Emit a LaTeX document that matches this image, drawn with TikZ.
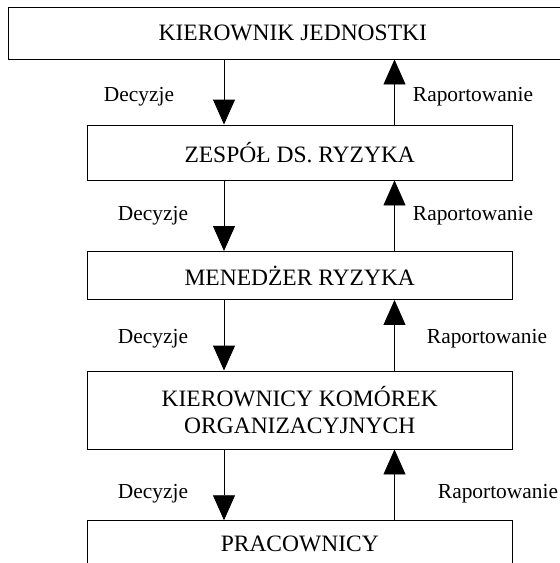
\documentclass[tikz,border=0pt]{standalone}
\usepackage{fontspec}
\setmainfont{Liberation Serif}
\usetikzlibrary{arrows.meta}
\begin{document}
\begin{tikzpicture}[x=1pt,y=-1pt,
  box/.style={draw, line width=0.9pt, inner sep=0pt, align=center,
    font=\fontsize{23.5}{27}\selectfont},
  lab/.style={font=\fontsize{21.4}{24}\selectfont, inner sep=0pt},
  flow/.style={line width=0.9pt, -{Triangle[length=25pt,width=22pt]}}]
\useasboundingbox (0,0) rectangle (560,563);
\clip (0,0) rectangle (560,563);
\coordinate (dx) at (224,0);
\coordinate (ux) at (394.5,0);
\node[box, minimum width=568pt, minimum height=51.5pt] (k1) at (292.8,33.25) {KIEROWNIK JEDNOSTKI};
\node[box, minimum width=425.5pt, minimum height=55pt] (k2) at (299.75,152.5) {ZESPÓŁ DS. RYZYKA};
\node[box, minimum width=425.5pt, minimum height=48pt] (k3) at (299.75,275.5) {MENEDŻER RYZYKA};
\node[box, minimum width=425.5pt, minimum height=78pt] (k4) at (299.75,410) {KIEROWNICY KOMÓREK\\ORGANIZACYJNYCH};
\node[box, minimum width=425.5pt, minimum height=47pt] (k5) at (299.75,544.2) {PRACOWNICY};
\draw[flow] (k1.south -| dx) -- (k2.north -| dx);
\draw[flow] (k2.north -| ux) -- (k1.south -| ux);
\draw[flow] (k2.south -| dx) -- (k3.north -| dx);
\draw[flow] (k3.north -| ux) -- (k2.south -| ux);
\draw[flow] (k3.south -| dx) -- (k4.north -| dx);
\draw[flow] (k4.north -| ux) -- (k3.south -| ux);
\draw[flow] (k4.south -| dx) -- (k5.north -| dx);
\draw[flow] (k5.north -| ux) -- (k4.south -| ux);
\node[lab] (d1) at (139,97) {Decyzje};
\node[lab] (d2) at (153,216) {Decyzje};
\node[lab] (d3) at (153,339) {Decyzje};
\node[lab] (d4) at (153,494) {Decyzje};
\node[lab] (r1) at (473,97) {Raportowanie};
\node[lab] (r2) at (473,216) {Raportowanie};
\node[lab] (r3) at (487,339) {Raportowanie};
\node[lab] (r4) at (498,494) {Raportowanie};
\end{tikzpicture}
\end{document}
